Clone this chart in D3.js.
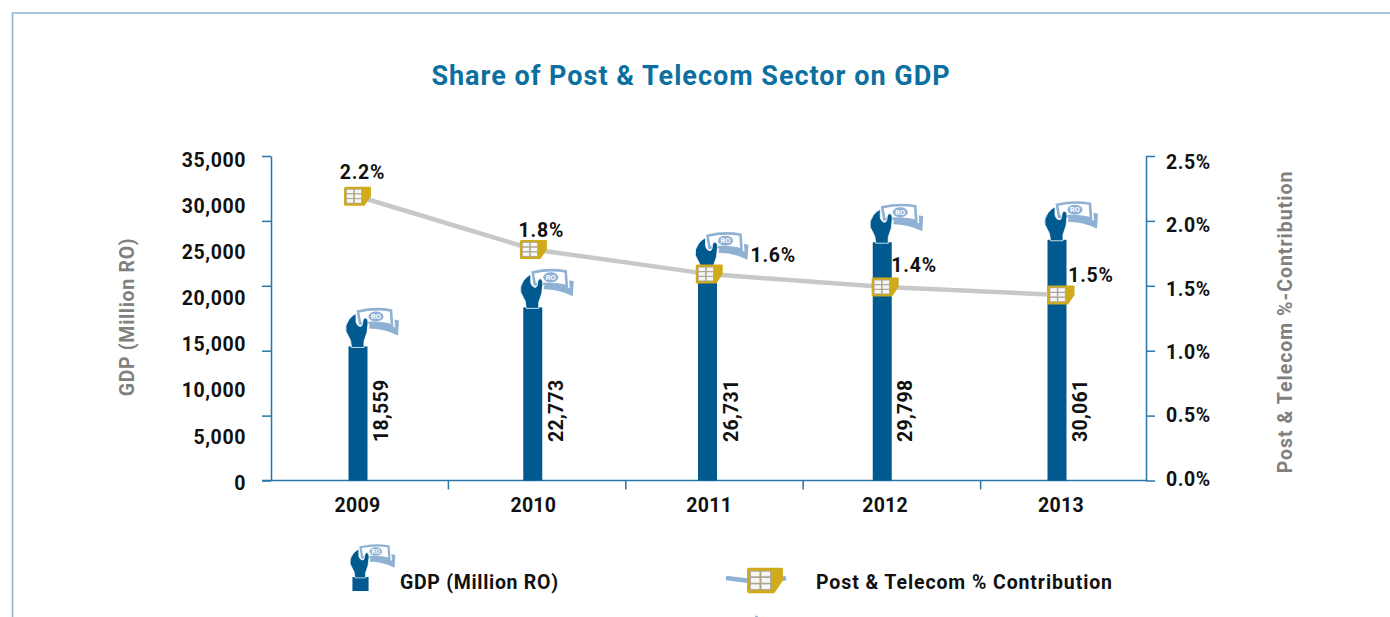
<!DOCTYPE html>
<html>
<head>
<meta charset="utf-8">
<script src="https://cdn.jsdelivr.net/npm/d3@7"></script>
<style>
  html, body { margin: 0; padding: 0; background: #fff; overflow: hidden; }
  svg { display: block; }
  text { font-family: Roboto, "Liberation Sans", sans-serif; font-weight: 700; }
</style>
</head>
<body>
<svg id="chart" width="1390" height="617"></svg>
<script>
// Data
const years = ['2009', '2010', '2011', '2012', '2013'];
const gdpValues = [18559, 22773, 26731, 29798, 30061];
const shareValues = [2.19, 1.78, 1.59, 1.49, 1.43];
const shareLabels = ['2.2%', '1.8%', '1.6%', '1.4%', '1.5%'];
const gdpTicks = [0, 7000, 14000, 21000, 28000, 35000];
const gdpTickLabels = [0, 5000, 10000, 15000, 20000, 25000, 30000, 35000];
const shareTicks = [0, 0.5, 1, 1.5, 2, 2.5];

const BLUE = '#005a8f';
const AXIS = '#2a76a8';
const PALE = '#8fb1d3';
const GOLD = '#cfab1c';
const GREY = '#808080';
const INK = '#111';

const svg = d3.select('#chart');
const plotTop = 156, plotBottom = 480.5, plotLeft = 271, plotRight = 1146;
const iconHeight = 38; // the wrench + note sit on the bar, value is read at the top of the note

// Scales
const yGdp = d3.scaleLinear().domain([0, 35000]).range([plotBottom, plotTop]);
const yShare = d3.scaleLinear().domain([0, 2.5]).range([plotBottom, plotTop]);
const yGdpLabel = d3.scaleLinear().domain([0, 35000]).range([483, 160]);
const yShareLabel = d3.scaleLinear().domain([0, 2.5]).range([479, 162]);
const xBand = d3.scaleBand().domain(years).range([plotLeft, 1158]);
const xBar = d3.scalePoint().domain(years).range([358, 1057]);
const xLine = d3.scalePoint().domain(years).range([357.5, 1061]);

// Frame, open on the right
svg.append('path')
    .attr('d', 'M12.5,617V13H1390')
    .attr('fill', 'none')
    .attr('stroke', '#8db2d2')
    .attr('stroke-width', 1.6);

svg.append('text')
    .attr('x', 691)
    .attr('y', 85)
    .attr('text-anchor', 'middle')
    .attr('font-size', 27)
    .attr('letter-spacing', 1)
    .attr('fill', '#0b6f9f')
    .text('Share of Post & Telecom Sector on GDP');

function styleAxisLines(g) {
    g.selectAll('path, line').attr('stroke', AXIS).attr('stroke-width', 1.5);
}

function styleAxisText(g) {
    g.select('.domain').remove();
    g.selectAll('line').remove();
    g.selectAll('text')
        .attr('font-family', 'Roboto')
        .attr('font-size', 19.5)
        .attr('font-weight', 700)
        .attr('letter-spacing', 0.6)
        .attr('fill', INK);
}

// Axis lines and ticks
svg.append('g')
    .attr('transform', `translate(${plotLeft},0)`)
    .call(d3.axisLeft(yGdp).tickValues(gdpTicks).tickSize(9).tickSizeOuter(0).tickFormat(''))
    .call(styleAxisLines);

svg.append('g')
    .attr('transform', `translate(${plotRight},0)`)
    .call(d3.axisRight(yShare).tickValues(shareTicks).tickSize(9).tickSizeOuter(0).tickFormat(''))
    .call(styleAxisLines);

svg.append('line')
    .attr('x1', 262).attr('x2', plotRight)
    .attr('y1', plotBottom).attr('y2', plotBottom)
    .attr('stroke', AXIS).attr('stroke-width', 1.5);

svg.append('g')
    .attr('class', 'x-ticks')
    .selectAll('line')
    .data(years.slice(1))
    .enter()
    .append('line')
    .attr('x1', d => xBand(d))
    .attr('x2', d => xBand(d))
    .attr('y1', plotBottom)
    .attr('y2', plotBottom + 9)
    .attr('stroke', AXIS)
    .attr('stroke-width', 1.5);

// Axis labels
svg.append('g')
    .attr('transform', 'translate(249,0)')
    .call(d3.axisLeft(yGdpLabel).tickValues(gdpTickLabels).tickSize(0).tickFormat(d3.format(',')))
    .call(styleAxisText);

svg.append('g')
    .attr('transform', 'translate(1163,0)')
    .call(d3.axisRight(yShareLabel).tickValues(shareTicks).tickSize(0).tickFormat(d => d.toFixed(1) + '%'))
    .call(styleAxisText);

svg.append('g')
    .selectAll('text')
    .data(years)
    .enter()
    .append('text')
    .attr('x', d => xLine(d))
    .attr('y', 512)
    .attr('text-anchor', 'middle')
    .attr('font-size', 19.5)
    .attr('letter-spacing', 0.3)
    .attr('fill', INK)
    .text(d => d);

// Axis titles
svg.append('text')
    .attr('transform', 'translate(134,317) rotate(-90)')
    .attr('text-anchor', 'middle')
    .attr('font-size', 19.5)
    .attr('letter-spacing', 0.7)
    .attr('fill', GREY)
    .text('GDP (Million RO)');

svg.append('text')
    .attr('transform', 'translate(1292,322) rotate(-90)')
    .attr('text-anchor', 'middle')
    .attr('font-size', 19.5)
    .attr('letter-spacing', 1)
    .attr('fill', GREY)
    .text('Post & Telecom %-Contribution');

// Wrench holding a banknote, origin at the top centre of the bar
function drawWrench(g) {
    g.append('path')
        .attr('d', 'M12,-24Q26,-24 37,-19L36.5,-27L41,-26L40,-11Q26,-18 11,-18Z')
        .attr('fill', PALE);
    g.append('path')
        .attr('d', 'M0,-35Q17,-39 33,-36L34,-21Q22,-25 2,-23Z')
        .attr('fill', '#fff')
        .attr('stroke', PALE)
        .attr('stroke-width', 2.6);
    g.append('ellipse')
        .attr('cx', 18).attr('cy', -30)
        .attr('rx', 7.5).attr('ry', 5)
        .attr('fill', PALE);
    g.append('text')
        .attr('x', 18).attr('y', -27.3)
        .attr('text-anchor', 'middle')
        .attr('font-size', 7.5)
        .attr('fill', '#fff')
        .text('RO');
    g.append('path')
        .attr('d', 'M-6.5,1L-7.5,-6L-12,-15Q-13.5,-21 -9,-27Q-6,-31 -2,-33L-2,-25Q-1,-20 3,-20Q5,-21 5,-26Q6,-29.5 8,-28.5Q10.5,-27 10,-23L9,-14L6,-5L6,1Z')
        .attr('fill', BLUE)
        .attr('stroke', '#fff')
        .attr('stroke-width', 0.8);
}

// SIM card, origin at its centre
function drawSim(g) {
    g.append('path')
        .attr('d', 'M-13.5,-8Q-13.5,-9.5 -12,-9.5H12.5Q13.5,-9.5 13.5,-8.5V0L7,9.5H-12Q-13.5,9.5 -13.5,8Z')
        .attr('fill', GOLD);
    const cells = d3.cross([-11, -3], [-7, -2.2, 2.6]);
    g.selectAll('rect')
        .data(cells)
        .enter()
        .append('rect')
        .attr('x', d => d[0])
        .attr('y', d => d[1])
        .attr('width', 7.2)
        .attr('height', 4.2)
        .attr('fill', '#f6f6f6')
        .attr('stroke', '#a0a0a0')
        .attr('stroke-width', 0.6);
}

// Bars
svg.append('g')
    .selectAll('rect')
    .data(years)
    .enter()
    .append('rect')
    .attr('x', d => xBar(d) - 9.5)
    .attr('width', 19)
    .attr('y', (d, i) => yGdp(gdpValues[i]) + iconHeight)
    .attr('height', (d, i) => plotBottom - yGdp(gdpValues[i]) - iconHeight)
    .attr('fill', BLUE);

years.forEach((d, i) => {
    const g = svg.append('g')
        .attr('transform', `translate(${xBar(d)},${yGdp(gdpValues[i]) + iconHeight})`);
    drawWrench(g);
});

// Bar value labels
years.forEach((d, i) => {
    svg.append('text')
        .attr('transform', `translate(${xBar(d) + 30},442) rotate(-90)`)
        .attr('font-size', 19.5)
        .attr('letter-spacing', 0.3)
        .attr('fill', INK)
        .text(d3.format(',')(gdpValues[i]));
});

// Share line
const line = d3.line()
    .x((d, i) => xLine(years[i]))
    .y(d => yShare(d));

svg.append('path')
    .datum(shareValues)
    .attr('d', line)
    .attr('fill', 'none')
    .attr('stroke', '#c8c8c8')
    .attr('stroke-width', 4.5);

years.forEach((d, i) => {
    const g = svg.append('g')
        .attr('transform', `translate(${xLine(d)},${yShare(shareValues[i])})`);
    drawSim(g);
});

// Share labels sit wherever they found room in the original
const shareLabelOffset = [[5, -17], [8, -12], [64, -12], [29, -15], [30, -13]];
years.forEach((d, i) => {
    svg.append('text')
        .attr('x', xLine(d) + shareLabelOffset[i][0])
        .attr('y', yShare(shareValues[i]) + shareLabelOffset[i][1])
        .attr('text-anchor', 'middle')
        .attr('font-size', 19.5)
        .attr('letter-spacing', 0.8)
        .attr('fill', INK)
        .text(shareLabels[i]);
});

// Legend
const legendWrench = svg.append('g').attr('transform', 'translate(360.5,577) scale(0.85)');
legendWrench.append('rect')
    .attr('x', -9.5).attr('y', 0)
    .attr('width', 19).attr('height', 16.5)
    .attr('fill', BLUE);
drawWrench(legendWrench);

svg.append('text')
    .attr('x', 400).attr('y', 589)
    .attr('font-size', 19.5)
    .attr('letter-spacing', 0.7)
    .attr('fill', INK)
    .text('GDP (Million RO)');

svg.append('path')
    .attr('d', 'M726,578L750,581M772,581L786,578')
    .attr('fill', 'none')
    .attr('stroke', PALE)
    .attr('stroke-width', 4.5);

drawSim(svg.append('g').attr('transform', 'translate(765,580.5) scale(1.33)'));

svg.append('text')
    .attr('x', 816).attr('y', 589)
    .attr('font-size', 19.5)
    .attr('letter-spacing', 0.9)
    .attr('fill', INK)
    .text('Post & Telecom % Contribution');

svg.append('circle')
    .attr('cx', 756.5).attr('cy', 617)
    .attr('r', 1.5)
    .attr('fill', PALE);
</script>
</body>
</html>
